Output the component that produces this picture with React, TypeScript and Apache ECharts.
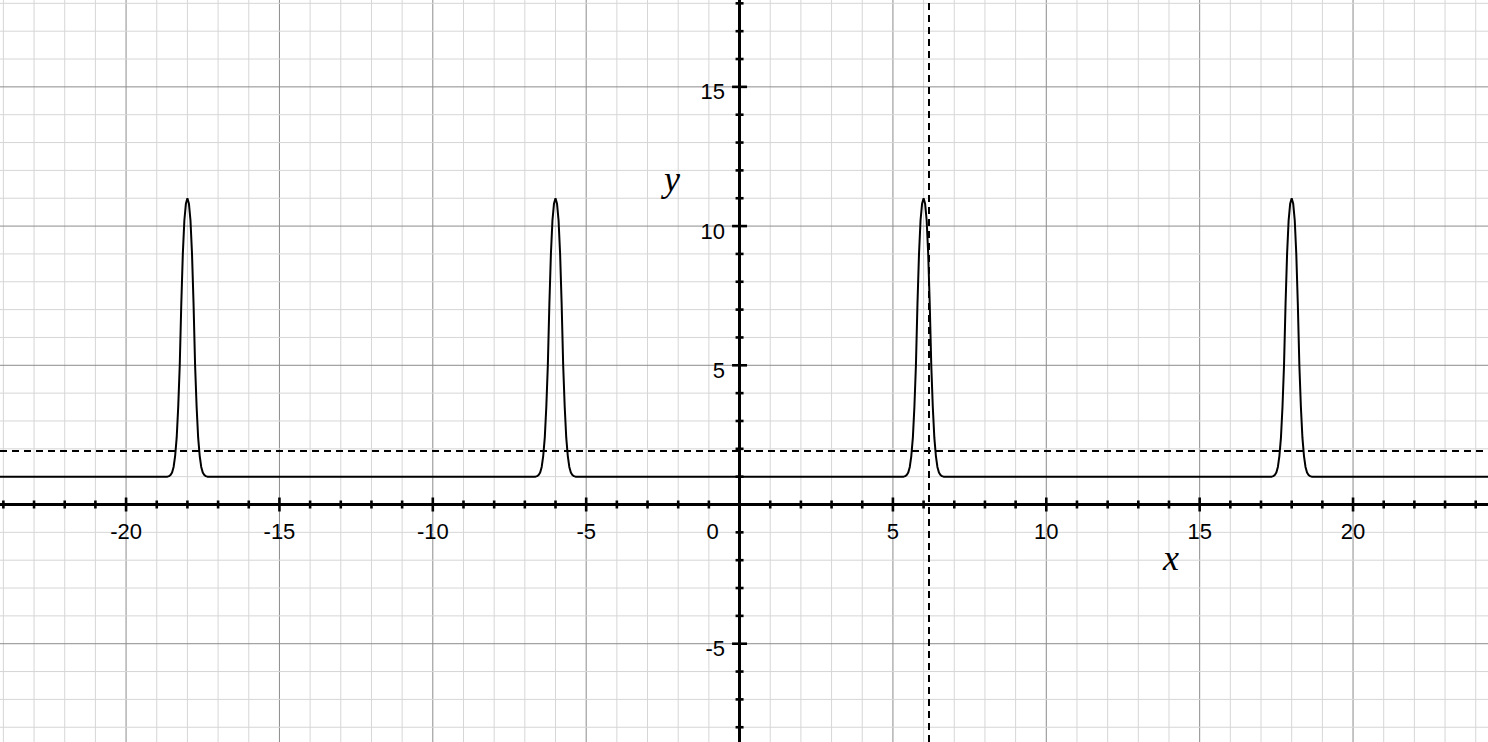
import React, { useEffect, useRef } from "react";
import * as echarts from "echarts";

// Visible window of the plot (data units)
const X_MIN = -24.11;
const X_MAX = 24.4;
const Y_MIN = -8.53;
const Y_MAX = 18.12;

// Curve: flat baseline with identical narrow peaks
const baselineValue = 1;
const peakCenters = [-18, -6, 6, 18];
const peakOffsets = [
  -0.65, -0.6, -0.55, -0.5, -0.45, -0.4, -0.35, -0.3, -0.25, -0.2, -0.15, -0.1, -0.05, 0,
  0.05, 0.1, 0.15, 0.2, 0.25, 0.3, 0.35, 0.4, 0.45, 0.5, 0.55, 0.6, 0.65,
];
const peakValues = [
  1.0, 1.02, 1.06, 1.15, 1.35, 1.75, 2.4, 3.5, 5.0, 7.2, 9.0, 10.2, 10.8, 11,
  10.8, 10.2, 9.0, 7.2, 5.0, 3.5, 2.4, 1.75, 1.35, 1.15, 1.06, 1.02, 1.0,
];

// Dashed reference lines
const dashedY = 1.93;
const dashedX = 6.18;

// Grid lines / ticks (every unit; multiples of 5 are major)
const xGrid = [
  -24, -23, -22, -21, -20, -19, -18, -17, -16, -15, -14, -13, -12, -11, -10, -9, -8, -7, -6, -5, -4, -3, -2, -1,
  0, 1, 2, 3, 4, 5, 6, 7, 8, 9, 10, 11, 12, 13, 14, 15, 16, 17, 18, 19, 20, 21, 22, 23, 24,
];
const yGrid = [
  -8, -7, -6, -5, -4, -3, -2, -1, 0, 1, 2, 3, 4, 5, 6, 7, 8, 9, 10, 11, 12, 13, 14, 15, 16, 17, 18,
];
const xTickLabels = [-20, -15, -10, -5, 0, 5, 10, 15, 20];
const yTickLabels = [-5, 5, 10, 15];

const LABEL_FONT = '"Liberation Sans", Arial, Helvetica, sans-serif';
const NAME_FONT = '"Liberation Serif", "Times New Roman", serif';

function buildCurve(): number[][] {
  const pts: number[][] = [[X_MIN, baselineValue]];
  peakCenters.forEach((c) => {
    peakOffsets.forEach((o, i) => pts.push([c + o, peakValues[i]]));
  });
  pts.push([X_MAX, baselineValue]);
  return pts;
}

const isMajor = (v: number) => Math.round(v) % 5 === 0;

export default function App() {
  const ref = useRef<HTMLDivElement>(null);

  useEffect(() => {
    document.body.style.margin = "0";
    document.body.style.overflow = "hidden";
    if (!ref.current) return;
    const chart = echarts.init(ref.current, undefined, { renderer: "svg" });

    const option: any = {
      animation: false,
      backgroundColor: "#ffffff",
      grid: { left: 0, right: 0, top: 0, bottom: 0, containLabel: false },
      xAxis: {
        type: "value",
        min: X_MIN,
        max: X_MAX,
        z: 5,
        axisLine: { show: true, onZero: true, lineStyle: { color: "#000", width: 3 } },
        axisTick: { show: false },
        axisLabel: { show: false },
        splitLine: { show: false },
      },
      yAxis: {
        type: "value",
        min: Y_MIN,
        max: Y_MAX,
        z: 5,
        axisLine: { show: true, onZero: true, lineStyle: { color: "#000", width: 3 } },
        axisTick: { show: false },
        axisLabel: { show: false },
        splitLine: { show: false },
      },
      graphic: [
        {
          type: "text",
          x: 1171,
          y: 558,
          z: 10,
          style: {
            text: "x",
            fill: "#000",
            fontSize: 36,
            fontStyle: "italic",
            fontFamily: NAME_FONT,
            align: "center",
            verticalAlign: "middle",
          },
        },
        {
          type: "text",
          x: 672,
          y: 179,
          z: 10,
          style: {
            text: "y",
            fill: "#000",
            fontSize: 36,
            fontStyle: "italic",
            fontFamily: NAME_FONT,
            align: "center",
            verticalAlign: "middle",
          },
        },
      ],
      series: [
        {
          name: "gridV",
          type: "custom",
          silent: true,
          z: 1,
          data: xGrid.map((v) => [v, 0]),
          renderItem: (_p: any, api: any) => {
            const v = api.value(0);
            const a = api.coord([v, Y_MAX]);
            const b = api.coord([v, Y_MIN]);
            return {
              type: "line",
              shape: { x1: a[0], y1: a[1], x2: b[0], y2: b[1] },
              style: { stroke: isMajor(v) ? "#8c8c8c" : "#d6d6d6", lineWidth: 1 },
            };
          },
        },
        {
          name: "gridH",
          type: "custom",
          silent: true,
          z: 1,
          data: yGrid.map((v) => [0, v]),
          renderItem: (_p: any, api: any) => {
            const v = api.value(1);
            const a = api.coord([X_MIN, v]);
            const b = api.coord([X_MAX, v]);
            return {
              type: "line",
              shape: { x1: a[0], y1: a[1], x2: b[0], y2: b[1] },
              style: { stroke: isMajor(v) ? "#8c8c8c" : "#d6d6d6", lineWidth: 1 },
            };
          },
        },
        {
          name: "curve",
          type: "line",
          z: 3,
          data: buildCurve(),
          showSymbol: false,
          symbol: "none",
          smooth: false,
          lineStyle: { color: "#000", width: 2 },
          markLine: {
            silent: true,
            symbol: ["none", "none"],
            label: { show: false },
            animation: false,
            lineStyle: { color: "#000", width: 2, type: [7, 5] },
            data: [{ yAxis: dashedY }, { xAxis: dashedX }],
          },
        },
        {
          name: "xTicks",
          type: "custom",
          silent: true,
          z: 6,
          data: xGrid.map((v) => [v, 0]),
          renderItem: (_p: any, api: any) => {
            const v = api.value(0);
            const p = api.coord([v, 0]);
            const h = isMajor(v) ? 14 : 8;
            return {
              type: "rect",
              shape: { x: p[0] - 1.3, y: p[1] - h / 2, width: 2.6, height: h },
              style: { fill: "#000" },
            };
          },
        },
        {
          name: "yTicks",
          type: "custom",
          silent: true,
          z: 6,
          data: yGrid.map((v) => [0, v]),
          renderItem: (_p: any, api: any) => {
            const v = api.value(1);
            const p = api.coord([0, v]);
            const w = isMajor(v) ? 15 : 8;
            return {
              type: "rect",
              shape: { x: p[0] - w / 2, y: p[1] - 1.3, width: w, height: 2.6 },
              style: { fill: "#000" },
            };
          },
        },
        {
          name: "xLabels",
          type: "custom",
          silent: true,
          z: 7,
          data: xTickLabels.map((v) => [v, 0]),
          renderItem: (_p: any, api: any) => {
            const v = api.value(0);
            const p = api.coord([v, 0]);
            return {
              type: "text",
              x: p[0] + (v === 0 ? -27 : 0),
              y: p[1] + 27,
              style: {
                text: String(v),
                fill: "#000",
                fontSize: 22,
                fontFamily: LABEL_FONT,
                align: "center",
                verticalAlign: "middle",
              },
            };
          },
        },
        {
          name: "yLabels",
          type: "custom",
          silent: true,
          z: 7,
          data: yTickLabels.map((v) => [0, v]),
          renderItem: (_p: any, api: any) => {
            const v = api.value(1);
            const p = api.coord([0, v]);
            return {
              type: "text",
              x: p[0] - 14.5,
              y: p[1] + 5,
              style: {
                text: String(v),
                fill: "#000",
                fontSize: 22,
                fontFamily: LABEL_FONT,
                align: "right",
                verticalAlign: "middle",
              },
            };
          },
        },
      ],
    };

    chart.setOption(option);
    return () => {
      chart.dispose();
    };
  }, []);

  return <div ref={ref} style={{ width: 1488, height: 742 }} />;
}
